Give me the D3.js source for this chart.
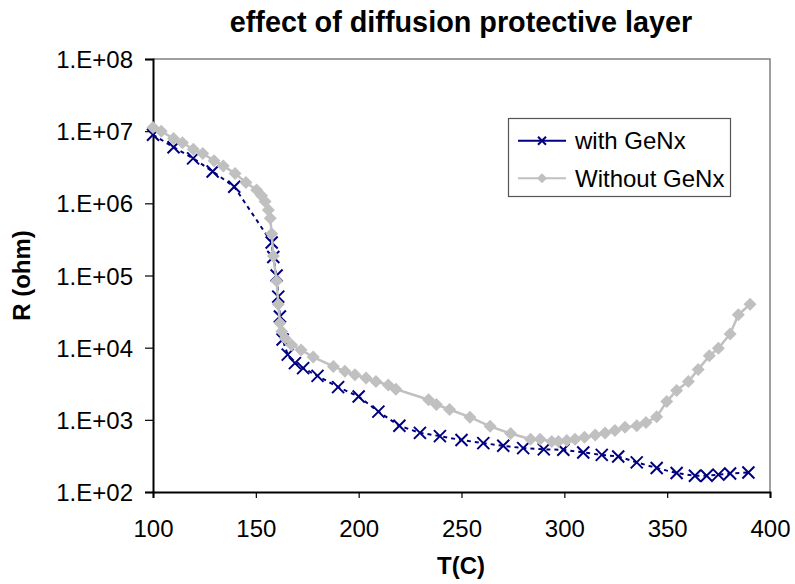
<!DOCTYPE html>
<html>
<head>
<meta charset="utf-8">
<script src="https://cdn.jsdelivr.net/npm/d3@7"></script>
<style>
  html, body { margin: 0; padding: 0; background: #fff; }
  svg { display: block; font-family: "Liberation Sans", Arial, sans-serif; }
</style>
</head>
<body>
<svg id="chart" width="795" height="584"></svg>
<script>
// Temperature (C) and resistance (ohm) for the film with the GeNx layer
const withTemp = [100, 110, 119.5, 129, 139.5, 157.7, 158.5, 160.1, 160.9, 161.7, 163, 165.5,
  169, 173, 180, 190, 200, 209.6, 219.8, 229.8, 239.5, 250, 260.6, 270.3, 280, 290, 299.5, 309.2, 318.2,
  326.2, 335.2, 344.9, 354.6, 363.5, 369.2, 374.9, 380.6, 389.5];
const withR = [8.9e6, 6.0e6, 4.2e6, 2.76e6, 1.7e6, 2.86e5, 1.8e5, 1.0e5, 5.1e4, 2.7e4, 1.3e4, 8.0e3,
  6.1e3, 5.2e3, 4.07e3, 2.84e3, 2.1e3, 1.3e3, 826, 660, 595, 525, 475, 437, 405, 390, 385, 353, 327,
  311, 257, 215, 183, 168, 168, 174, 180, 186];

// Temperature (C) and resistance (ohm) for the film without the GeNx layer
const withoutTemp = [100, 104, 110, 114.3, 119.6, 124.2, 129.7, 134.2, 139.9, 145.2, 150.4, 152.8, 154.5, 156.1, 157,
  157.7, 158.5, 160.1, 160.9, 161.7, 162.6, 164.2, 167.4, 172, 177.9, 187.7, 193.3, 198.2, 203.6, 208.4,
  214.4, 218.1, 234, 237.8, 244.2, 254.1, 263.9, 273.9, 283.6, 288.2, 293.9, 297.1, 301.2, 305.2, 309.8,
  315, 319.8, 324.6, 329.5, 335.2, 339.7, 344.9, 349.8, 354.6, 360.3, 365.1, 370.5, 374.9, 380.6, 384.6, 390.3];
const withoutR = [1.12e7, 1.0e7, 7.9e6, 6.9e6, 5.6e6, 4.9e6, 3.9e6, 3.3e6, 2.6e6, 1.94e6, 1.53e6, 1.27e6, 1.06e6, 8.1e5, 6.2e5,
  3.8e5, 1.86e5, 8.4e4, 4.0e4, 2.2e4, 1.67e4, 1.35e4, 1.09e4, 9.3e3, 7.4e3, 5.5e3, 4.7e3, 4.2e3, 3.8e3, 3.4e3,
  3.05e3, 2.66e3, 1.9e3, 1.63e3, 1.39e3, 1.09e3, 813, 645, 540, 540, 500, 500, 518, 540, 575,
  617, 655, 710, 790, 826, 915, 1.1e3, 1.79e3, 2.55e3, 3.4e3, 5.0e3, 7.7e3, 9.8e3, 1.55e4, 2.85e4, 4.0e4];

const seriesNames = ["with GeNx", "Without GeNx"];
const xTicks = [100, 150, 200, 250, 300, 350, 400];
const yTicks = [1e2, 1e3, 1e4, 1e5, 1e6, 1e7, 1e8];
const yTickLabels = ["1.E+02", "1.E+03", "1.E+04", "1.E+05", "1.E+06", "1.E+07", "1.E+08"];
const titleText = "effect of diffusion protective layer";
const xTitle = "T(C)";
const yTitle = "R (ohm)";

const svg = d3.select("#chart");
const plot = { left: 153, right: 770, top: 59, bottom: 492 };

const x = d3.scaleLinear().domain([100, 400]).range([plot.left, plot.right]);
const y = d3.scaleLog().domain([1e2, 1e8]).range([plot.bottom, plot.top]);

// plot frame (top and right edges)
svg.append("path")
  .attr("d", `M${plot.left},${plot.top}H${plot.right}V${plot.bottom}`)
  .attr("fill", "none").attr("stroke", "#808080").attr("stroke-width", 1.5);

// axes
const xAxis = d3.axisBottom(x).tickValues(xTicks).tickSize(6).tickPadding(10).tickFormat(d3.format("d"));
const yAxis = d3.axisLeft(y).tickValues(yTicks).tickSize(8).tickPadding(12)
  .tickFormat((d, i) => yTickLabels[i]);

const gx = svg.append("g").attr("transform", `translate(0,${plot.bottom})`).call(xAxis);
const gy = svg.append("g").attr("transform", `translate(${plot.left},0)`).call(yAxis);
[gx, gy].forEach(g => {
  g.select(".domain").attr("stroke", "#000").attr("stroke-width", 2);
  g.selectAll(".tick line").attr("stroke", "#000").attr("stroke-width", 1.2);
  g.selectAll(".tick text").attr("fill", "#000").style("font-size", "24px")
    .style("font-family", "'Liberation Sans', Arial, sans-serif");
});
gy.selectAll(".tick text").attr("dy", "0.36em");
gx.selectAll(".tick text").attr("dy", "1.2em");

// titles
svg.append("text").attr("x", 461).attr("y", 32).attr("text-anchor", "middle")
  .style("font-size", "28.8px").style("font-weight", "bold").text(titleText);
svg.append("text").attr("x", 461).attr("y", 574).attr("text-anchor", "middle")
  .style("font-size", "24px").style("font-weight", "bold").text(xTitle);
svg.append("text").attr("transform", `translate(30,${(plot.top + plot.bottom) / 2}) rotate(-90)`)
  .attr("text-anchor", "middle")
  .style("font-size", "24px").style("font-weight", "bold").text(yTitle);

const blue = "#000080", grey = "#C0C0C0";
const withData = withTemp.map((t, i) => [t, withR[i]]);
const withoutData = withoutTemp.map((t, i) => [t, withoutR[i]]);
const line = d3.line().x(d => x(d[0])).y(d => y(d[1]));

function crossPath(cx, cy, s) {
  return `M${cx - s},${cy - s}L${cx + s},${cy + s}M${cx - s},${cy + s}L${cx + s},${cy - s}`;
}
function diamondPath(cx, cy, s) {
  return `M${cx},${cy - s}L${cx + s},${cy}L${cx},${cy + s}L${cx - s},${cy}Z`;
}

// with GeNx: dashed navy line with x markers
svg.append("path").datum(withData).attr("d", line)
  .attr("fill", "none").attr("stroke", blue).attr("stroke-width", 2).attr("stroke-dasharray", "4,4");
svg.append("g").selectAll("path").data(withData).join("path")
  .attr("d", d => crossPath(x(d[0]), y(d[1]), 6))
  .attr("stroke", blue).attr("stroke-width", 2).attr("fill", "none");

// without GeNx: solid grey line with diamond markers
svg.append("path").datum(withoutData).attr("d", line)
  .attr("fill", "none").attr("stroke", grey).attr("stroke-width", 2.5);
svg.append("g").selectAll("path").data(withoutData).join("path")
  .attr("d", d => diamondPath(x(d[0]), y(d[1]), 6.5))
  .attr("fill", grey);

// legend
const lg = svg.append("g");
lg.append("rect").attr("x", 508.5).attr("y", 118.5).attr("width", 222).attr("height", 78)
  .attr("fill", "#fff").attr("stroke", "#555").attr("stroke-width", 1.2);
const rows = [140.7, 178.3];
lg.append("line").attr("x1", 518).attr("x2", 566).attr("y1", rows[0]).attr("y2", rows[0])
  .attr("stroke", blue).attr("stroke-width", 2);
lg.append("path").attr("d", crossPath(542, rows[0], 4)).attr("stroke", blue).attr("stroke-width", 2).attr("fill", "none");
lg.append("line").attr("x1", 518).attr("x2", 566).attr("y1", rows[1]).attr("y2", rows[1])
  .attr("stroke", grey).attr("stroke-width", 2);
lg.append("path").attr("d", diamondPath(542, rows[1], 5)).attr("fill", grey);
seriesNames.forEach((name, i) => {
  lg.append("text").attr("x", 575).attr("y", rows[i]).attr("dy", "0.36em")
    .style("font-size", "24px").text(name);
});
</script>
</body>
</html>
